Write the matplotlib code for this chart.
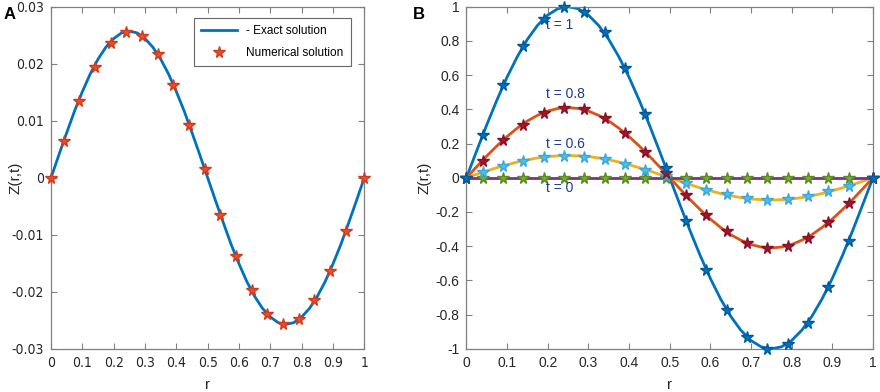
import numpy as np
import matplotlib
matplotlib.use("Agg")
import matplotlib.pyplot as plt
from matplotlib import font_manager

plt.rcParams['font.family'] = ['Liberation Sans', 'DejaVu Sans']
plt.rcParams['axes.unicode_minus'] = False

# a narrow face for panel A tick labels, if one is installed
narrow = None
for f in font_manager.fontManager.ttflist:
    if 'Narrow' in f.name or 'Condensed' in f.name or f.stretch in ('condensed', 'semi-condensed'):
        if f.weight in ('normal', 400, 'regular', 'book') and f.style == 'normal':
            narrow = f.fname
            break

# line grid (r) and marker grid (r)
r_line = [0, 0.025, 0.05, 0.075, 0.1, 0.125, 0.15, 0.175, 0.2, 0.225, 0.25,
          0.275, 0.3, 0.325, 0.35, 0.375, 0.4, 0.425, 0.45, 0.475, 0.5,
          0.525, 0.55, 0.575, 0.6, 0.625, 0.65, 0.675, 0.7, 0.725, 0.75,
          0.775, 0.8, 0.825, 0.85, 0.875, 0.9, 0.925, 0.95, 0.975, 1]
r_mark = [0, 0.04, 0.09, 0.14, 0.19, 0.24, 0.29, 0.34, 0.39, 0.44, 0.49,
          0.54, 0.59, 0.64, 0.69, 0.74, 0.79, 0.84, 0.89, 0.94, 1]

# panel A
exact_a = [0, 0.0040, 0.0079, 0.0117, 0.0151, 0.0182, 0.0208, 0.0229, 0.0244, 0.0254, 0.0257,
           0.0254, 0.0244, 0.0229, 0.0208, 0.0182, 0.0151, 0.0117, 0.0079, 0.0040, 0,
           -0.0040, -0.0079, -0.0117, -0.0151, -0.0182, -0.0208, -0.0229, -0.0244, -0.0254, -0.0257,
           -0.0254, -0.0244, -0.0229, -0.0208, -0.0182, -0.0151, -0.0117, -0.0079, -0.0040, 0]
num_a = [0, 0.0064, 0.0135, 0.0195, 0.0236, 0.0256, 0.0248, 0.0217, 0.0162, 0.0092, 0.0015,
         -0.0065, -0.0137, -0.0197, -0.0238, -0.0256, -0.0247, -0.0215, -0.0163, -0.0093, 0]

# panel B
line_t1 = [0, 0.156, 0.309, 0.454, 0.588, 0.707, 0.809, 0.891, 0.951, 0.988, 1.0,
           0.988, 0.951, 0.891, 0.809, 0.707, 0.588, 0.454, 0.309, 0.156, 0,
           -0.156, -0.309, -0.454, -0.588, -0.707, -0.809, -0.891, -0.951, -0.988, -1.0,
           -0.988, -0.951, -0.891, -0.809, -0.707, -0.588, -0.454, -0.309, -0.156, 0]
line_t08 = [0, 0.064, 0.127, 0.186, 0.241, 0.290, 0.332, 0.365, 0.390, 0.405, 0.41,
            0.405, 0.390, 0.365, 0.332, 0.290, 0.241, 0.186, 0.127, 0.064, 0,
            -0.064, -0.127, -0.186, -0.241, -0.290, -0.332, -0.365, -0.390, -0.405, -0.41,
            -0.405, -0.390, -0.365, -0.332, -0.290, -0.241, -0.186, -0.127, -0.064, 0]
line_t06 = [0, 0.020, 0.040, 0.059, 0.076, 0.092, 0.105, 0.116, 0.124, 0.128, 0.13,
            0.128, 0.124, 0.116, 0.105, 0.092, 0.076, 0.059, 0.040, 0.020, 0,
            -0.020, -0.040, -0.059, -0.076, -0.092, -0.105, -0.116, -0.124, -0.128, -0.13,
            -0.128, -0.124, -0.116, -0.105, -0.092, -0.076, -0.059, -0.040, -0.020, 0]
line_t0 = [0] * len(r_line)

mark_t1 = [0, 0.25, 0.54, 0.77, 0.93, 1.0, 0.97, 0.85, 0.64, 0.37, 0.06,
           -0.25, -0.54, -0.77, -0.93, -1.0, -0.97, -0.85, -0.64, -0.37, 0]
mark_t08 = [0, 0.10, 0.22, 0.31, 0.38, 0.41, 0.40, 0.35, 0.26, 0.15, 0.025,
            -0.10, -0.22, -0.31, -0.38, -0.41, -0.40, -0.35, -0.26, -0.15, 0]
mark_t06 = [0, 0.033, 0.070, 0.097, 0.119, 0.128, 0.124, 0.108, 0.080, 0.047, 0.008,
            -0.033, -0.070, -0.097, -0.119, -0.128, -0.124, -0.108, -0.080, -0.047, 0]
mark_t0 = [0] * len(r_mark)

x_ticks = [0, 0.1, 0.2, 0.3, 0.4, 0.5, 0.6, 0.7, 0.8, 0.9, 1]
x_labels = ['0', '0.1', '0.2', '0.3', '0.4', '0.5', '0.6', '0.7', '0.8', '0.9', '1']
ya_ticks = [-0.03, -0.02, -0.01, 0, 0.01, 0.02, 0.03]
ya_labels = ['-0.03', '-0.02', '-0.01', '0', '0.01', '0.02', '0.03']
yb_ticks = [-1, -0.8, -0.6, -0.4, -0.2, 0, 0.2, 0.4, 0.6, 0.8, 1]
yb_labels = ['-1', '-0.8', '-0.6', '-0.4', '-0.2', '0', '0.2', '0.4', '0.6', '0.8', '1']

blue = '#0072BD'
orange = '#D95319'
yellow = '#EDB120'
purple = '#7E2F8E'
txt = '#262626'
edge = '#808080'


def style(ax, yt, yl, ylim, size):
    ax.set_xlim(0, 1)
    ax.set_ylim(*ylim)
    ax.set_xticks(x_ticks)
    ax.set_xticklabels(x_labels)
    ax.set_yticks(yt)
    ax.set_yticklabels(yl)
    ax.tick_params(direction='in', length=4, width=0.8, top=True, right=True,
                   labelsize=size, colors=edge, labelcolor=txt, pad=5)
    for s in ax.spines.values():
        s.set_color(edge)
        s.set_linewidth(0.9)
    ax.set_xlabel('r', fontsize=11, color=txt, labelpad=6)
    ax.set_ylabel('Z(r,t)', fontsize=11, color=txt)


fig = plt.figure(figsize=(8.8, 3.92), dpi=100)

ax1 = fig.add_axes([0.058, 0.110, 0.356, 0.873])
ax1.plot(r_line, exact_a, '-', color=blue, lw=2, label='- Exact solution')
ax1.plot(r_mark, num_a, '*', color='#E8502A', mec='#D03A1E', ms=8.5, ls='none',
         label='Numerical solution', clip_on=False, zorder=3)
style(ax1, ya_ticks, ya_labels, (-0.03, 0.03), 9)
if narrow:
    fp = font_manager.FontProperties(fname=narrow, size=10)
    for t in ax1.get_xticklabels() + ax1.get_yticklabels():
        t.set_fontproperties(fp)
ax1.yaxis.set_label_coords(-0.09, 0.5)
leg = ax1.legend(loc='upper right', fontsize=8.5, frameon=True, fancybox=False,
                 edgecolor='#404040', handlelength=3, borderpad=0.6,
                 labelspacing=0.9, bbox_to_anchor=(0.975, 0.985))
leg.get_frame().set_linewidth(0.8)

ax2 = fig.add_axes([0.530, 0.110, 0.462, 0.873])
ax2.plot(r_line, line_t1, '-', color=blue, lw=2)
ax2.plot(r_line, line_t08, '-', color=orange, lw=2)
ax2.plot(r_line, line_t06, '-', color=yellow, lw=2)
ax2.plot(r_line, line_t0, '-', color=purple, lw=2)
ax2.plot(r_mark, mark_t0, '*', color='#77AC30', mec='#5A8A20', ms=8.5, ls='none',
         clip_on=False, zorder=3)
ax2.plot(r_mark, mark_t06, '*', color='#4DBEEE', mec='#3AA8DA', ms=8.5, ls='none',
         clip_on=False, zorder=3)
ax2.plot(r_mark, mark_t08, '*', color='#A2142F', mec='#8A1028', ms=8.5, ls='none',
         clip_on=False, zorder=3)
ax2.plot(r_mark, mark_t1, '*', color=blue, mec='#005A9A', ms=8.5, ls='none',
         clip_on=False, zorder=3)
style(ax2, yb_ticks, yb_labels, (-1, 1), 10)
ax2.yaxis.set_label_coords(-0.085, 0.5)

lab = '#1F3A93'
ax2.text(0.197, 0.89, 't = 1', color=lab, fontsize=10, va='center')
ax2.text(0.197, 0.49, 't = 0.8', color=lab, fontsize=10, va='center')
ax2.text(0.197, 0.20, 't = 0.6', color=lab, fontsize=10, va='center')
ax2.text(0.197, -0.06, 't = 0', color=lab, fontsize=10, va='center')

fig.text(0.004, 0.962, 'A', fontsize=12, fontweight='bold', va='center')
fig.text(0.469, 0.962, 'B', fontsize=12, fontweight='bold', va='center')

fig.savefig('out.png', dpi=100)
